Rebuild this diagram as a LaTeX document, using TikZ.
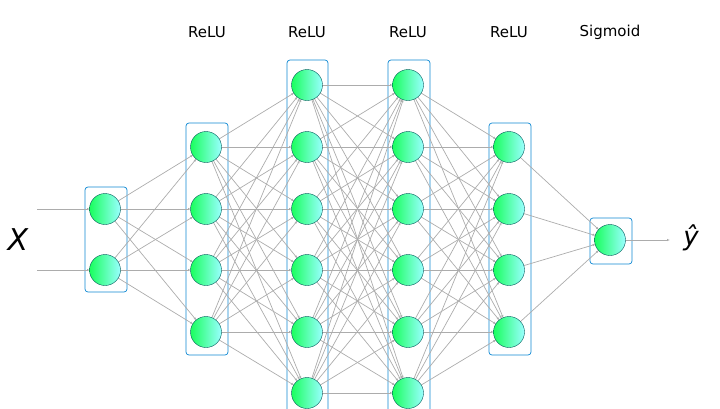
\documentclass[tikz,border=0pt]{standalone}
\usepackage{fontspec}
\setmainfont{DejaVu Sans}
\usetikzlibrary{arrows.meta}
\tikzset{
  neuron/.style={circle, draw=teal!70!black, inner sep=0pt, minimum size=31pt,
    left color=green!70!cyan!90, right color=cyan!40},
  layerbox/.style={draw=cyan!70!blue, rounded corners=3pt, line width=0.7pt},
  link/.style={draw=gray!65, line width=0.7pt, -{Latex[length=3pt,width=2.5pt,open]}},
  toplabel/.style={font=\fontsize{15}{18}\selectfont}
}
\begin{document}
\begin{tikzpicture}[x=1pt,y=-1pt]
    \useasboundingbox (0,0) rectangle (720,408);
    % layer boxes
    \draw[layerbox] (85,187) rectangle (127,292);
    \draw[layerbox] (186,123) rectangle (228,355);
    \draw[layerbox] (287,60) rectangle (328,412);
    \draw[layerbox] (388,60) rectangle (430,412);
    \draw[layerbox] (489,123) rectangle (531,355);
    \draw[layerbox] (590,218) rectangle (632,264);

    % edges first, nodes on top
    \foreach \i/\y in {1/209,2/270} \coordinate (A\i) at (105,\y);
    \foreach \i/\y in {1/147,2/209,3/270,4/332} \coordinate (B\i) at (206,\y);
    \foreach \i/\y in {1/85,2/147,3/209,4/270,5/332,6/393} \coordinate (C\i) at (307,\y);
    \foreach \i/\y in {1/85,2/147,3/209,4/270,5/332,6/393} \coordinate (D\i) at (408,\y);
    \foreach \i/\y in {1/147,2/209,3/270,4/332} \coordinate (E\i) at (509,\y);
    \coordinate (F1) at (610,240);

    \coordinate (in1) at (37,209);
    \coordinate (in2) at (37,270);
    \coordinate (out) at (670,240);

    \foreach \i in {1,2}
      \foreach \j in {1,...,4}
        \draw[link, shorten <=15pt, shorten >=15pt] (A\i) -- (B\j);
    \foreach \i in {1,...,4}
      \foreach \j in {1,...,6}
        \draw[link, shorten <=15pt, shorten >=15pt] (B\i) -- (C\j);
    \foreach \i in {1,...,6}
      \foreach \j in {1,...,6}
        \draw[link, shorten <=15pt, shorten >=15pt] (C\i) -- (D\j);
    \foreach \i in {1,...,6}
      \foreach \j in {1,...,4}
        \draw[link, shorten <=15pt, shorten >=15pt] (D\i) -- (E\j);
    \foreach \i in {1,...,4}
      \draw[link, shorten <=15pt, shorten >=15pt] (E\i) -- (F1);

    \draw[link, shorten >=15pt] (in1) -- (A1);
    \draw[link, shorten >=15pt] (in2) -- (A2);
    \draw[link, shorten <=15pt] (F1) -- (out);

    % neurons
    \foreach \c/\n in {A/2,B/4,C/6,D/6,E/4,F/1}
      \foreach \i in {1,...,\n}
        \node[neuron] (n\c\i) at (\c\i) {};

    % labels
    \node[font=\fontsize{30}{34}\selectfont\itshape] (xlab) at (18,240) {X};
    \node[font=\fontsize{26}{30}\selectfont\itshape] (ylab) at (691,238) {ŷ};
    \foreach \x/\t in {207/ReLU,307/ReLU,408/ReLU,509/ReLU,610/Sigmoid}
      \node[toplabel] (lab\x) at (\x,32) {\t};
\end{tikzpicture}
\end{document}
